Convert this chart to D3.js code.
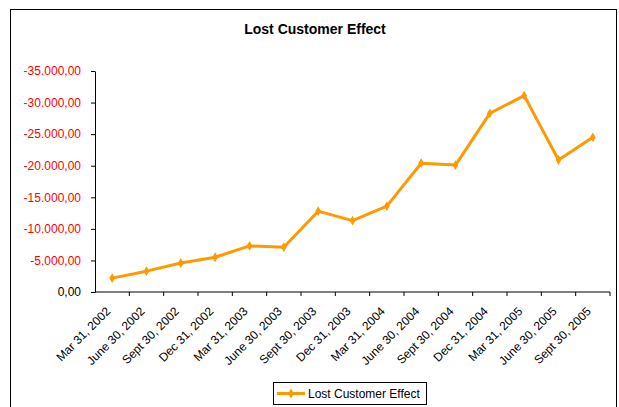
<!DOCTYPE html>
<html>
<head>
<meta charset="utf-8">
<script src="https://cdn.jsdelivr.net/npm/d3@7"></script>
<style>
  body { margin: 0; background: #fff; }
  svg { display: block; font-family: "Liberation Sans", Arial, sans-serif; }
</style>
</head>
<body>
<div class="chart"></div>
<script>
// quarter end dates shown on the x axis
const categories = [
  "Mar 31, 2002", "June 30, 2002", "Sept 30, 2002", "Dec 31, 2002",
  "Mar 31, 2003", "June 30, 2003", "Sept 30, 2003", "Dec 31, 2003",
  "Mar 31, 2004", "June 30, 2004", "Sept 30, 2004", "Dec 31, 2004",
  "Mar 31, 2005", "June 30, 2005", "Sept 30, 2005"
];
// lost customer effect per quarter
const lostValues = [
  -2200, -3300, -4600, -5500, -7300, -7100, -12800, -11300,
  -13600, -20400, -20100, -28300, -31100, -20900, -24500
];
const yTicks = [0, -5000, -10000, -15000, -20000, -25000, -30000, -35000];
const seriesName = "Lost Customer Effect";

const width = 619, height = 407;
const plot = { left: 95, right: 610, top: 71, bottom: 292 };
const orange = "#FF9900";

const svg = d3.select(".chart").append("svg")
  .attr("width", width)
  .attr("height", height);

// outer chart frame (bottom edge runs past the picture)
svg.append("rect")
  .attr("x", 10.5).attr("y", 9.5)
  .attr("width", 606).attr("height", 400)
  .attr("fill", "#fff")
  .attr("stroke", "#000")
  .attr("stroke-width", 1);

svg.append("text")
  .attr("x", 315).attr("y", 34)
  .attr("text-anchor", "middle")
  .style("font-size", "14px")
  .style("font-weight", "bold")
  .text("Lost Customer Effect");

// --- scales ---
const x = d3.scaleBand()
  .domain(categories)
  .range([plot.left, plot.right]);

const y = d3.scaleLinear()
  .domain([0, -35000])
  .range([plot.bottom, plot.top]);

// german style number format: -35.000,00
const de = d3.formatLocale({ decimal: ",", thousands: ".", grouping: [3], currency: ["", ""], minus: "-" });
const fmt = de.format(",.2f");

// --- y axis ---
const yAxis = svg.append("g")
  .attr("transform", `translate(${plot.left},0)`)
  .call(d3.axisLeft(y).tickValues(yTicks).tickFormat(fmt).tickSize(4).tickPadding(10).tickSizeOuter(0));
yAxis.selectAll("text")
  .style("font-size", "12px")
  .attr("fill", d => d === 0 ? "#000" : "#FF0000");
yAxis.select(".domain").attr("stroke", "#000");

// --- x axis, ticks between the categories ---
const xAxis = svg.append("g")
  .attr("transform", `translate(0,${plot.bottom})`);
xAxis.append("line")
  .attr("x1", plot.left).attr("x2", plot.right)
  .attr("stroke", "#000");
xAxis.selectAll(".tick")
  .data(categories)
  .join("line")
  .attr("class", "tick")
  .attr("x1", d => x(d) + x.bandwidth())
  .attr("x2", d => x(d) + x.bandwidth())
  .attr("y1", 0).attr("y2", 4)
  .attr("stroke", "#000");
xAxis.selectAll(".lbl")
  .data(categories)
  .join("text")
  .attr("class", "lbl")
  .attr("text-anchor", "end")
  .attr("transform", d => `translate(${x(d) + x.bandwidth() / 2 - 1},${20}) rotate(-45)`)
  .style("font-size", "12px")
  .text(d => d);

// --- line + markers ---
const pts = categories.map((c, i) => ({ c, v: lostValues[i] }));
const line = d3.line()
  .x(d => x(d.c) + x.bandwidth() / 2)
  .y(d => y(d.v));

svg.append("path")
  .datum(pts)
  .attr("fill", "none")
  .attr("stroke", orange)
  .attr("stroke-width", 3)
  .attr("stroke-linejoin", "round")
  .attr("d", line);

svg.selectAll(".mark")
  .data(pts)
  .join("path")
  .attr("class", "mark")
  .attr("transform", d => `translate(${x(d.c) + x.bandwidth() / 2},${y(d.v)})`)
  .attr("d", d3.symbol(d3.symbolDiamond, 28))
  .attr("fill", orange);

// --- legend ---
const lg = svg.append("g");
lg.append("rect")
  .attr("x", 273.5).attr("y", 382.5)
  .attr("width", 153).attr("height", 22)
  .attr("fill", "#fff").attr("stroke", "#000");
lg.append("line")
  .attr("x1", 277).attr("x2", 305)
  .attr("y1", 393.5).attr("y2", 393.5)
  .attr("stroke", orange).attr("stroke-width", 3);
lg.append("path")
  .attr("transform", "translate(291,393.5)")
  .attr("d", d3.symbol(d3.symbolDiamond, 28))
  .attr("fill", orange);
lg.append("text")
  .attr("x", 308).attr("y", 398)
  .style("font-size", "12px")
  .text(seriesName);
</script>
</body>
</html>
